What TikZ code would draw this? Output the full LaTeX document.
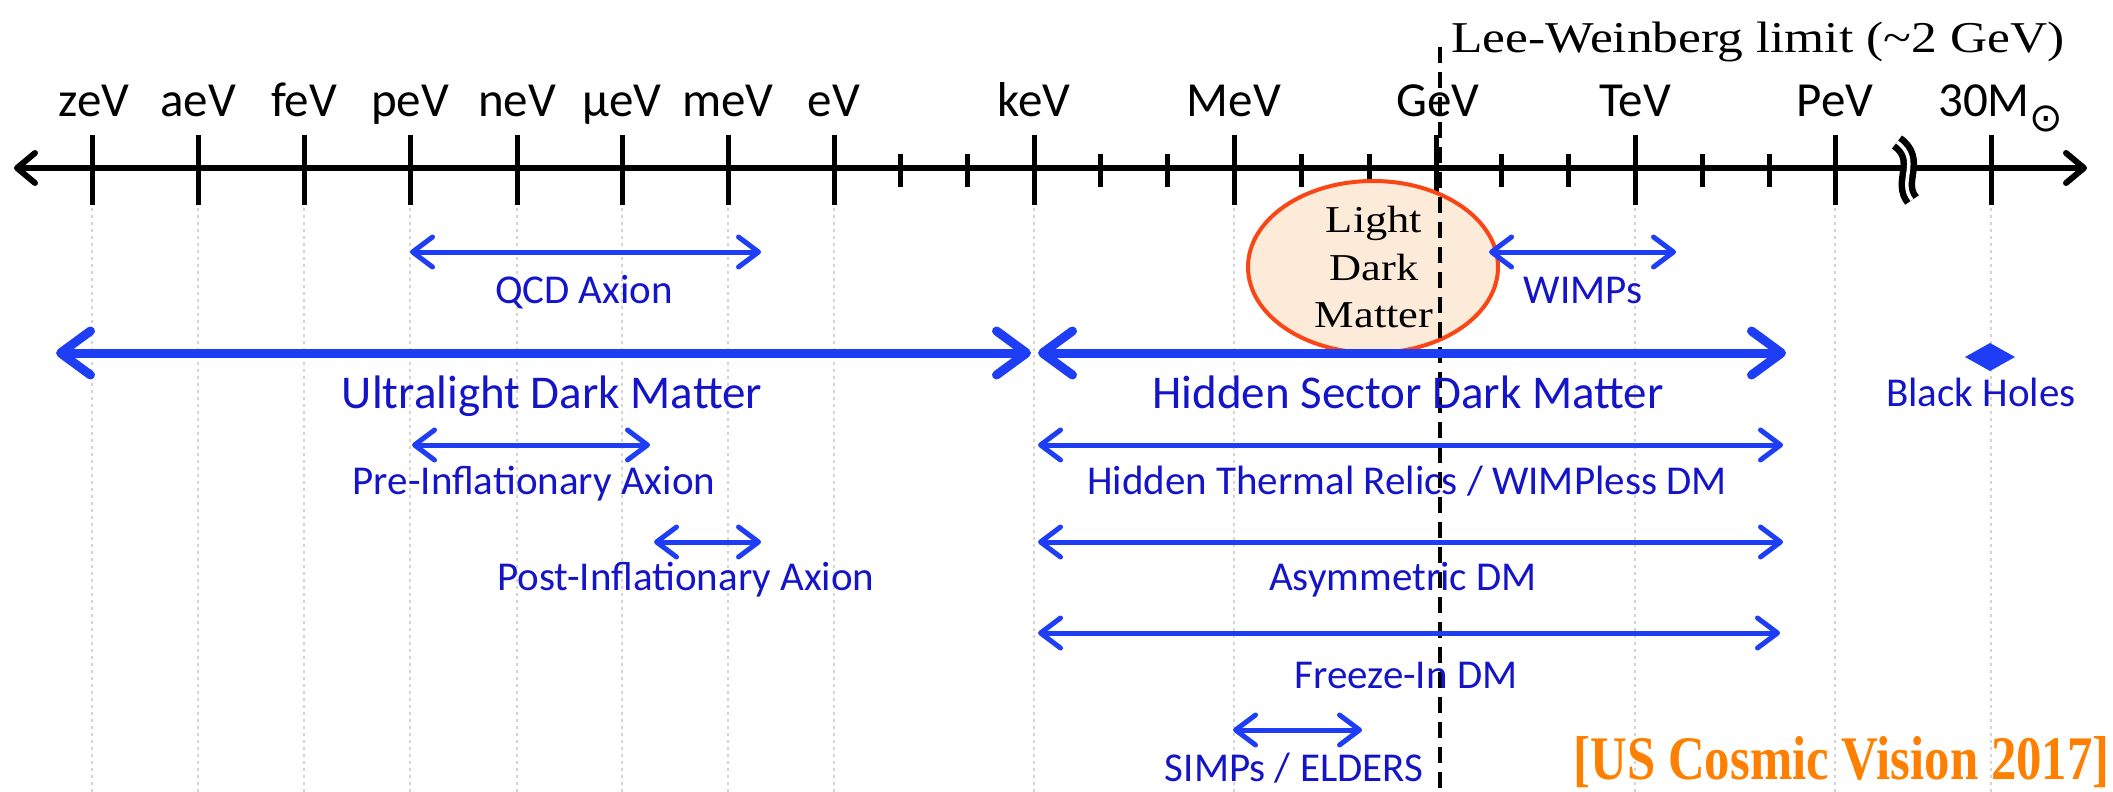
\documentclass[tikz,border=0pt]{standalone}
\usepackage{fontspec}
\usepackage{graphicx}
\usetikzlibrary{arrows.meta,shapes.geometric}
\newfontfamily\calfont{Carlito}
\newfontfamily\citefont{Liberation Serif}[FakeStretch=0.82]
\newfontfamily\lwfont{Liberation Serif}[FakeStretch=1.17]
\newfontfamily\symbfont{DejaVu Sans}
\definecolor{arrowblue}{RGB}{30,62,246}
\definecolor{txtblue}{RGB}{20,20,200}
\definecolor{ldmfill}{RGB}{253,235,218}
\definecolor{ldmdraw}{RGB}{250,70,20}
\definecolor{citeorange}{RGB}{255,128,0}
\definecolor{gridgray}{RGB}{212,212,212}
\begin{document}
\begin{tikzpicture}[x=1pt,y=1pt,
  elabel/.style={font=\calfont\fontsize{49}{52}\selectfont, anchor=base, inner sep=0pt},
  smalllab/.style={font=\calfont\fontsize{41}{44}\selectfont, text=txtblue, anchor=base, inner sep=0pt},
  biglab/.style={font=\calfont\fontsize{47}{50}\selectfont, text=txtblue, anchor=base, inner sep=0pt},
  ldmtext/.style={font=\lwfont\fontsize{38}{40}\selectfont, anchor=base, inner sep=0pt},
  thinrange/.style={draw=arrowblue, line width=5pt,
    {Straight Barb[length=20pt,width=30pt,round]}-{Straight Barb[length=20pt,width=30pt,round]}},
  thickrange/.style={draw=arrowblue, line width=9pt,
    {Straight Barb[length=30pt,width=44pt,round]}-{Straight Barb[length=30pt,width=44pt,round]}},
  axisline/.style={draw=black, line width=6pt,
    {Straight Barb[length=18pt,width=30pt,round]}-{Straight Barb[length=18pt,width=30pt,round]}},
  tickline/.style={draw=black, line width=5pt},
  gridline/.style={draw=gridgray, line width=1.5pt, dash pattern=on 3pt off 4pt},
  lwdash/.style={draw=black, line width=3.5pt, dash pattern=on 16pt off 9pt},
  ]
\useasboundingbox (0,0) rectangle (2113,-792);
\fill[white] (0,0) rectangle (2113,-792);

% faint grid lines at the decades
\foreach \gx in {92,198,304,410,517,622,728,834,1034,1234,1635,1835,1991}
  \draw[gridline] (\gx,-208) -- (\gx,-792);

% axis
\coordinate (axL) at (14,-168);
\coordinate (axR) at (2087,-168);
\draw[axisline] (axL) -- (axR);
\foreach \tx in {92,198,304,410,517,622,728,834,1034,1234,1436,1635,1835,1991}
  \draw[tickline] (\tx,-135) -- (\tx,-205);
\foreach \tx in {900,967,1100,1167,1301,1369,1501,1568,1702,1769}
  \draw[tickline] (\tx,-154) -- (\tx,-187);
% axis break
\draw[line width=6.5pt, double=white, double distance=3.5pt]
  (1897,-142) .. controls (1922,-160) and (1897,-182) .. (1912,-200);

% energy labels
\node[elabel] (zev) at (94,-116) {zeV};
\node[elabel] (aev) at (198,-116) {aeV};
\node[elabel] (fev) at (304,-116) {feV};
\node[elabel] (pev) at (410,-116) {peV};
\node[elabel] (nev) at (517,-116) {neV};
\node[elabel] (uev) at (622,-116) {μeV};
\node[elabel] (mev) at (728,-116) {meV};
\node[elabel] (ev) at (834,-116) {eV};
\node[elabel] (kev) at (1034,-116) {keV};
\node[elabel] (Mev) at (1234,-116) {MeV};
\node[elabel] (Gev) at (1438,-116) {GeV};
\node[elabel] (Tev) at (1635,-116) {TeV};
\node[elabel] (Pev) at (1835,-116) {PeV};
\node[elabel, anchor=base west] (msun) at (1938,-116)
  {30M\raisebox{-15pt}{\symbfont\fontsize{40}{42}\selectfont ⊙}};

% Light Dark Matter blob
\node[ellipse, draw=ldmdraw, fill=ldmfill, line width=4pt,
      minimum width=250pt, minimum height=172pt, inner sep=0pt] (ldm) at (1373,-267) {};

% Lee-Weinberg limit
\coordinate (lwtop) at (1440,-47);
\coordinate (lwbot) at (1440,-792);
\draw[lwdash] (lwtop) -- (lwbot);
\node[anchor=base west, inner sep=0pt, font=\lwfont\fontsize{44}{46}\selectfont] (lw) at (1451,-53)
  {Lee-Weinberg limit (\textasciitilde 2 GeV)};

\node[ldmtext] (ldm1) at (1374,-232) {Light};
\node[ldmtext] (ldm2) at (1374,-280) {Dark};
\node[ldmtext] (ldm3) at (1374,-327) {Matter};

% ranges
\coordinate (qcdL) at (410,-252);   \coordinate (qcdR) at (761,-252);
\coordinate (wimpL) at (1489,-252); \coordinate (wimpR) at (1676,-252);
\coordinate (ulL) at (56,-353);     \coordinate (ulR) at (1031,-353);
\coordinate (hsL) at (1038,-353);   \coordinate (hsR) at (1786,-353);
\coordinate (preL) at (412,-445);   \coordinate (preR) at (650,-445);
\coordinate (htL) at (1038,-445);   \coordinate (htR) at (1783,-445);
\coordinate (postL) at (654,-542);  \coordinate (postR) at (761,-542);
\coordinate (asL) at (1038,-542);   \coordinate (asR) at (1783,-542);
\coordinate (fiL) at (1038,-633);   \coordinate (fiR) at (1780,-633);
\coordinate (siL) at (1233,-730);   \coordinate (siR) at (1362,-730);

\draw[thinrange] (qcdL) -- (qcdR);
\draw[thinrange] (wimpL) -- (wimpR);
\draw[thickrange] (ulL) -- (ulR);
\draw[thickrange] (hsL) -- (hsR);
\draw[thinrange] (preL) -- (preR);
\draw[thinrange] (htL) -- (htR);
\draw[thinrange] (postL) -- (postR);
\draw[thinrange] (asL) -- (asR);
\draw[thinrange] (fiL) -- (fiR);
\draw[thinrange] (siL) -- (siR);

% black holes
\coordinate (bhc) at (1990,-357);
\fill[arrowblue] (1965,-357) -- (1990,-343) -- (2015,-357) -- (1990,-371) -- cycle;

% labels
\node[smalllab] (qcdlab) at (584,-303) {QCD Axion};
\node[smalllab] (wimplab) at (1583,-303) {WIMPs};
\node[biglab] (ullab) at (552,-408) {Ultralight Dark Matter};
\node[biglab] (hslab) at (1408,-408) {Hidden Sector Dark Matter};
\node[smalllab] (bhlab) at (1981,-406) {Black Holes};
\node[smalllab] (prelab) at (534,-494) {Pre-Inflationary Axion};
\node[smalllab] (htlab) at (1407,-494) {Hidden Thermal Relics / WIMPless DM};
\node[smalllab] (postlab) at (686,-590) {Post-Inflationary Axion};
\node[smalllab] (aslab) at (1403,-590) {Asymmetric DM};
\node[smalllab] (filab) at (1406,-688) {Freeze-In DM};
\node[smalllab] (silab) at (1294,-781) {SIMPs / ELDERS};

% citation
\node[anchor=base east, inner sep=0pt, text=citeorange,
      font=\citefont\bfseries\fontsize{62}{64}\selectfont] (cite) at (2110,-779)
  {[US Cosmic Vision 2017]};
\end{tikzpicture}
\end{document}
